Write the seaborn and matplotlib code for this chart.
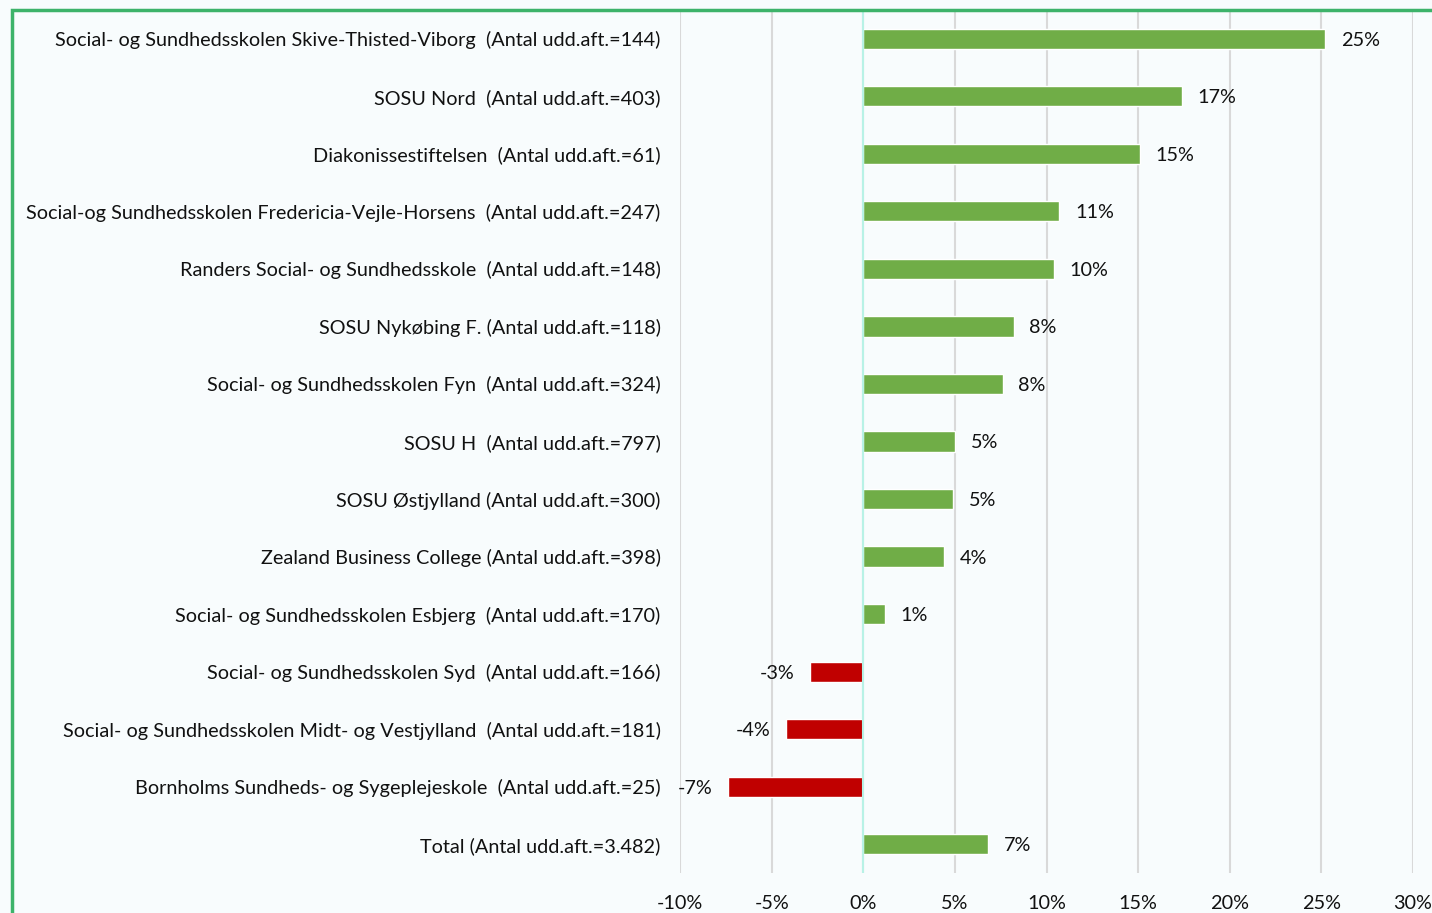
import pandas as pd
import matplotlib.pyplot as plt
import seaborn as sns
from matplotlib.patches import Rectangle
from matplotlib.ticker import FuncFormatter

sns.set_theme(style="white")
plt.rcParams['font.family'] = ['Lato', 'DejaVu Sans']

# Data
SCHOOLS = [
    "Social- og Sundhedsskolen Skive-Thisted-Viborg  (Antal udd.aft.=144)",
    "SOSU Nord  (Antal udd.aft.=403)",
    "Diakonissestiftelsen  (Antal udd.aft.=61)",
    "Social-og Sundhedsskolen Fredericia-Vejle-Horsens  (Antal udd.aft.=247)",
    "Randers Social- og Sundhedsskole  (Antal udd.aft.=148)",
    "SOSU Nykøbing F. (Antal udd.aft.=118)",
    "Social- og Sundhedsskolen Fyn  (Antal udd.aft.=324)",
    "SOSU H  (Antal udd.aft.=797)",
    "SOSU Østjylland (Antal udd.aft.=300)",
    "Zealand Business College (Antal udd.aft.=398)",
    "Social- og Sundhedsskolen Esbjerg  (Antal udd.aft.=170)",
    "Social- og Sundhedsskolen Syd  (Antal udd.aft.=166)",
    "Social- og Sundhedsskolen Midt- og Vestjylland  (Antal udd.aft.=181)",
    "Bornholms Sundheds- og Sygeplejeskole  (Antal udd.aft.=25)",
    "Total (Antal udd.aft.=3.482)",
]
VALUES = [25.2, 17.4, 15.1, 10.7, 10.4, 8.2, 7.6, 5.0, 4.9, 4.4, 1.2, -2.9, -4.2, -7.4, 6.8]
X_TICKS = [-10, -5, 0, 5, 10, 15, 20, 25, 30]

GREEN = "#70AD47"
RED = "#C00000"
BG = "#F8FCFD"
FS = 14.3

df = pd.DataFrame({"school": SCHOOLS, "value": VALUES})
df["sign"] = ["pos" if v >= 0 else "neg" for v in df["value"]]

fig = plt.figure(figsize=(14.32, 9.13), dpi=100, facecolor=BG)
ax = fig.add_axes([680 / 1432, 1 - 873 / 913, (1413 - 680) / 1432, (873 - 10) / 913])
ax.set_facecolor(BG)

sns.barplot(data=df, y="school", x="value", hue="sign",
            palette={"pos": GREEN, "neg": RED}, orient="h",
            width=0.35, dodge=False, legend=False, saturation=1, ax=ax)

ax.set_xlim(-10, 30)
ax.set_xticks(X_TICKS)
ax.xaxis.set_major_formatter(FuncFormatter(lambda v, _: f"{v:.0f}%"))
ax.grid(axis="x", color="#D9D9D9", linewidth=1.5)
ax.set_axisbelow(True)
ax.axvline(0, color="#B8F2E6", linewidth=1.5, zorder=1)
for s in ax.spines.values():
    s.set_visible(False)
ax.set_xlabel("")
ax.set_ylabel("")
ax.tick_params(axis="y", length=0, pad=14, labelsize=FS, labelcolor="#111111")
ax.tick_params(axis="x", length=0, pad=16, labelsize=FS, labelcolor="#111111")

# value labels
for i, v in enumerate(VALUES):
    if v >= 0:
        ax.text(v + 0.85, i, f"{round(v)}%", va="center_baseline", ha="left", fontsize=FS, color="#111111")
    else:
        ax.text(v - 0.85, i, f"{round(v)}%", va="center_baseline", ha="right", fontsize=FS, color="#111111")

# green frame of the cropped chart
fig.add_artist(Rectangle((12 / 1432, -0.1), 1.2, 1 - 10 / 913 + 0.1,
                         transform=fig.transFigure, fill=False,
                         edgecolor="#3DB36A", linewidth=2.5))

fig.savefig("out.png", dpi=100, facecolor=BG)
